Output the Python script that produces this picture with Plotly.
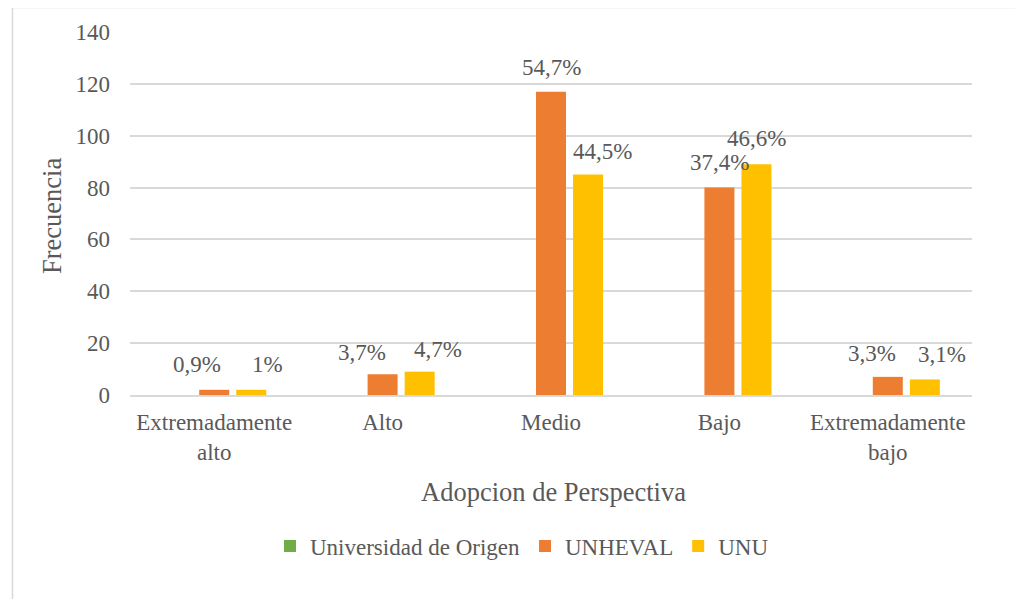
import plotly.graph_objects as go

categories = ["Extremadamente<br>alto", "Alto", "Medio", "Bajo", "Extremadamente<br>bajo"]
series_names = ["Universidad de Origen", "UNHEVAL", "UNU"]
origen_values = [0, 0, 0, 0, 0]
unheval_values = [2, 8, 117, 80, 7]
unu_values = [2, 9, 85, 89, 6]
unheval_labels = ["0,9%", "3,7%", "54,7%", "37,4%", "3,3%"]
unu_labels = ["1%", "4,7%", "44,5%", "46,6%", "3,1%"]
y_ticks = [0, 20, 40, 60, 80, 100, 120, 140]

# label placement tweaks (pixels), as positioned in the original chart
unheval_label_dx = [-17, -21, 0, 0, -16]
unheval_label_dy = [25, 22, 24, 25, 23]
unu_label_dx = [16, 18, 14, 0, 17]
unu_label_dy = [25, 22, 23, 26, 25]

colors = ["#70AD47", "#ED7D31", "#FFC000"]
FONT = "Liberation Serif, 'Times New Roman', 'DejaVu Serif', serif"
TXT = "#595959"

W, H = 1023, 599
OFF = 8  # page body margin
ML, MT = 130 - OFF, 32 - OFF
PW, PH = 842, 363
MR = W - ML - PW
MB = H - MT - PH
slot_px = 37


def px_to_paper_x(px):
    return (px - OFF - ML) / PW


def px_to_paper_y(py):
    return (MT + PH - (py - OFF)) / PH


fig = go.Figure()
for name, vals, col in zip(series_names, [origen_values, unheval_values, unu_values], colors):
    fig.add_trace(go.Bar(name=name, x=categories, y=vals, marker=dict(color=col, line=dict(width=0)),
                         hoverinfo="y"))

ann = []
for i, c in enumerate(categories):
    ann.append(dict(x=c, y=unheval_values[i], xref="x", yref="y", text=unheval_labels[i],
                    showarrow=False, xshift=unheval_label_dx[i], yshift=unheval_label_dy[i],
                    yanchor="middle", font=dict(family=FONT, size=23, color=TXT)))
    ann.append(dict(x=c, y=unu_values[i], xref="x", yref="y", text=unu_labels[i],
                    showarrow=False, xshift=slot_px + unu_label_dx[i], yshift=unu_label_dy[i],
                    yanchor="middle", font=dict(family=FONT, size=23, color=TXT)))

ann.append(dict(x=px_to_paper_x(553), y=px_to_paper_y(492), xref="paper", yref="paper",
                text="Adopcion de Perspectiva", showarrow=False, xanchor="center", yanchor="middle",
                font=dict(family=FONT, size=26.5, color=TXT)))
ann.append(dict(x=px_to_paper_x(52), y=px_to_paper_y(216), xref="paper", yref="paper",
                text="Frecuencia", showarrow=False, textangle=-90, xanchor="center", yanchor="middle",
                font=dict(family=FONT, size=26.5, color=TXT)))

shapes = [dict(type="rect", xref="paper", yref="paper",
               x0=px_to_paper_x(12.5), x1=px_to_paper_x(W + 30),
               y0=px_to_paper_y(H + 30), y1=px_to_paper_y(7.5),
               line=dict(color="#D9D9D9", width=1.5), fillcolor="rgba(0,0,0,0)", layer="below")]

fig.update_layout(
    width=W, height=H,
    margin=dict(l=ML, r=MR, t=MT, b=MB),
    paper_bgcolor="white", plot_bgcolor="white",
    barmode="group", bargap=0.34, bargroupgap=0.19,
    font=dict(family=FONT, size=23, color=TXT),
    showlegend=True,
    legend=dict(orientation="h", x=px_to_paper_x(522), xanchor="center", y=px_to_paper_y(546),
                yanchor="middle", font=dict(family=FONT, size=23, color=TXT),
                traceorder="normal", bgcolor="rgba(0,0,0,0)"),
    annotations=ann,
    shapes=shapes,
    xaxis=dict(showgrid=False, showline=True, linecolor="#D9D9D9", linewidth=1.5,
               ticks="", ticklabelstandoff=6, tickfont=dict(family=FONT, size=23, color=TXT),
               fixedrange=True),
    yaxis=dict(range=[0, 140], tickvals=y_ticks, showgrid=True, gridcolor="#D9D9D9", gridwidth=1.5,
               zeroline=False, showline=False, ticks="", ticklabelstandoff=19,
               tickfont=dict(family=FONT, size=23, color=TXT), fixedrange=True),
)

fig.write_html("out.html")
